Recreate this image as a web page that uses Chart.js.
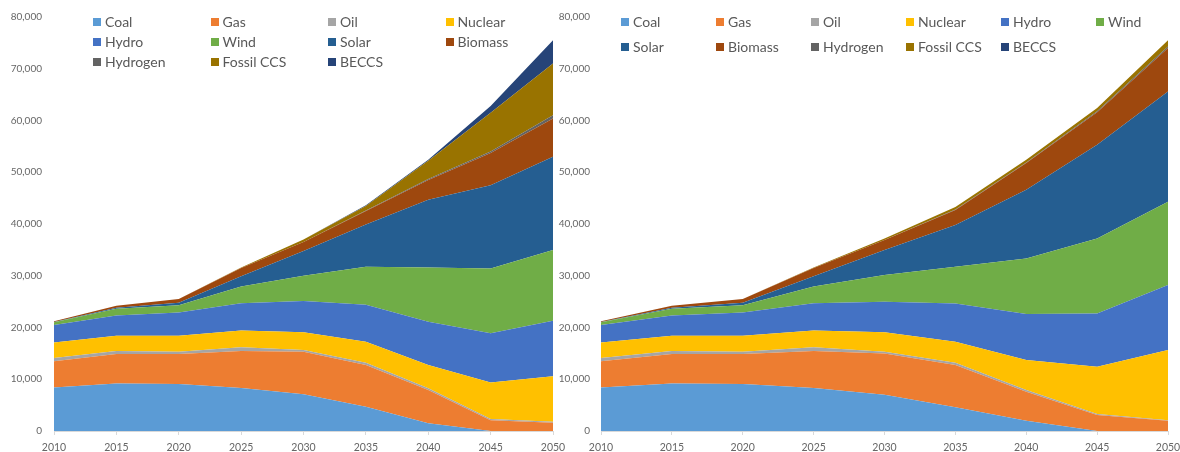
<!DOCTYPE html>
<html>
<head>
<meta charset="utf-8">
<script src="https://cdn.jsdelivr.net/npm/chart.js@4"></script>
<style>
  html, body { margin:0; padding:0; background:#fff; }
  #wrap { position:relative; width:1180px; height:452px; overflow:hidden; font-family: Lato, "Open Sans", sans-serif; }
  canvas { position:absolute; top:0; }
  .leg { position:absolute; display:flex; align-items:center; font-size:14px; color:#595959; white-space:nowrap; line-height:16px; }
  .leg i { display:inline-block; width:8px; height:8px; margin-right:4px; }
</style>
</head>
<body>
<div id="wrap">
  <canvas id="c1" width="580" height="452" style="left:0;width:580px;height:452px"></canvas>
  <canvas id="c2" width="625" height="452" style="left:555px;width:625px;height:452px"></canvas>
</div>
<script>
// ---- data ----
const years = ['2010','2015','2020','2025','2030','2035','2040','2045','2050'];
const seriesNames = ['Coal','Gas','Oil','Nuclear','Hydro','Wind','Solar','Biomass','Hydrogen','Fossil CCS','BECCS'];

// left scenario
const coalL     = [8400, 9200, 9100, 8300, 7100, 4700, 1500,     0,     0];
const gasL      = [5100, 5700, 5800, 7150, 8200, 8050, 6400,  2100,  1600];
const oilL      = [ 600,  550,  400,  750,  350,  450,  350,   200,   200];
const nuclearL  = [3000, 2950, 3100, 3200, 3450, 4050, 4500,  7050,  8800];
const hydroL    = [3400, 3900, 4500, 5300, 6000, 7150, 8350,  9550, 10700];
const windL     = [ 500, 1300, 1400, 3200, 4900, 7350,10500, 12500, 13700];
const solarL    = [  50,  200,  500, 2000, 4800, 8150,13100, 16100, 18000];
const biomassL  = [ 150,  400,  700, 1600, 1700, 2600, 3800,  6200,  7400];
const hydrogenL = [   0,    0,    0,    0,    0,  100,  200,   300,   600];
const fossilL   = [   0,    0,    0,  100,  500,  900, 3500,  7500, 10000];
const beccsL    = [   0,    0,    0,    0,    0,  100,  200,  1300,  4500];

// right scenario
const coalR     = [8400, 9200, 9100, 8300, 7000, 4600, 2000,     0,     0];
const gasR      = [5100, 5700, 5800, 7150, 8000, 8150, 5600,  3100,  2000];
const oilR      = [ 600,  550,  400,  750,  300,  450,  300,   200,   100];
const nuclearR  = [3000, 2950, 3100, 3200, 3800, 4050, 5800,  9100, 13550];
const hydroR    = [3400, 3900, 4500, 5300, 5900, 7400, 8900, 10300, 12550];
const windR     = [ 500, 1300, 1400, 3200, 5150, 7100,10750, 14500, 16100];
const solarR    = [  50,  200,  500, 2000, 4850, 8050,13250, 18100, 21300];
const biomassR  = [ 150,  400,  700, 1600, 1900, 2900, 5200,  6300,  8400];
const hydrogenR = [   0,    0,    0,    0,    0,  100,  100,   200,   300];
const fossilR   = [   0,    0,    0,  100,  300,  500,  500,   600,  1200];
const beccsR    = [   0,    0,    0,    0,    0,    0,    0,     0,     0];

const yTicks = [0, 10000, 20000, 30000, 40000, 50000, 60000, 70000, 80000];

// ---- styles ----
const colors = ['#5B9BD5','#ED7D31','#A5A5A5','#FFC000','#4472C4','#70AD47','#255E91','#9E480E','#636363','#997300','#264478'];

function makeChart(id, seriesList, cfg) {
  const datasets = seriesList.map((d, i) => ({
    label: seriesNames[i],
    data: d,
    backgroundColor: colors[i],
    borderColor: colors[i],
    borderWidth: 0,
    pointRadius: 0,
    pointHoverRadius: 0,
    tension: 0,
    fill: i === 0 ? 'origin' : '-1'
  }));
  return new Chart(document.getElementById(id), {
    type: 'line',
    data: { labels: years, datasets },
    options: {
      responsive: false,
      animation: false,
      devicePixelRatio: 1,
      layout: { padding: { left: 0, right: cfg.padRight, top: 17, bottom: 0 } },
      plugins: { legend: { display: false }, tooltip: { enabled: false } },
      scales: {
        x: {
          grid: { display: true, drawOnChartArea: false, drawTicks: true, tickLength: 4, color: '#D9D9D9' },
          border: { display: true, color: '#D9D9D9', width: 1 },
          ticks: { color: '#666', font: { family: 'Lato', size: 10.5 }, padding: 6, maxRotation: 0, autoSkip: false },
          afterFit(s) { s.height = 21; s.paddingLeft = 0; s.paddingRight = 0; }
        },
        y: {
          stacked: true,
          min: 0, max: 80000,
          afterBuildTicks(s) { s.ticks = yTicks.map(v => ({ value: v })); },
          grid: { display: false, drawTicks: false },
          border: { display: false },
          ticks: { color: '#666', font: { family: 'Lato', size: 10 }, padding: cfg.tickPad,
                   callback: v => Number(v).toLocaleString('en-US') },
          afterFit(s) { s.width = cfg.yWidth; s.paddingTop = 0; s.paddingBottom = 0; }
        }
      }
    }
  });
}

makeChart('c1', [coalL, gasL, oilL, nuclearL, hydroL, windL, solarL, biomassL, hydrogenL, fossilL, beccsL],
  { padRight: 27, yWidth: 54, tickPad: 12 });
makeChart('c2', [coalR, gasR, oilR, nuclearR, hydroR, windR, solarR, biomassR, hydrogenR, fossilR, beccsR],
  { padRight: 12, yWidth: 46, tickPad: 11 });

// HTML legends
function legend(x0, colW, cols, rowY) {
  const wrap = document.getElementById('wrap');
  seriesNames.forEach((name, i) => {
    const el = document.createElement('div');
    el.className = 'leg';
    el.style.left = (x0 + (i % cols) * colW) + 'px';
    el.style.top = (rowY[Math.floor(i / cols)] - 8) + 'px';
    const sw = document.createElement('i');
    sw.style.background = colors[i];
    el.appendChild(sw);
    el.appendChild(document.createTextNode(name));
    wrap.appendChild(el);
  });
}
legend(93, 117.5, 4, [21.5, 41.5, 61.5]);
legend(621, 95, 6, [22, 46.5]);
</script>
</body>
</html>
